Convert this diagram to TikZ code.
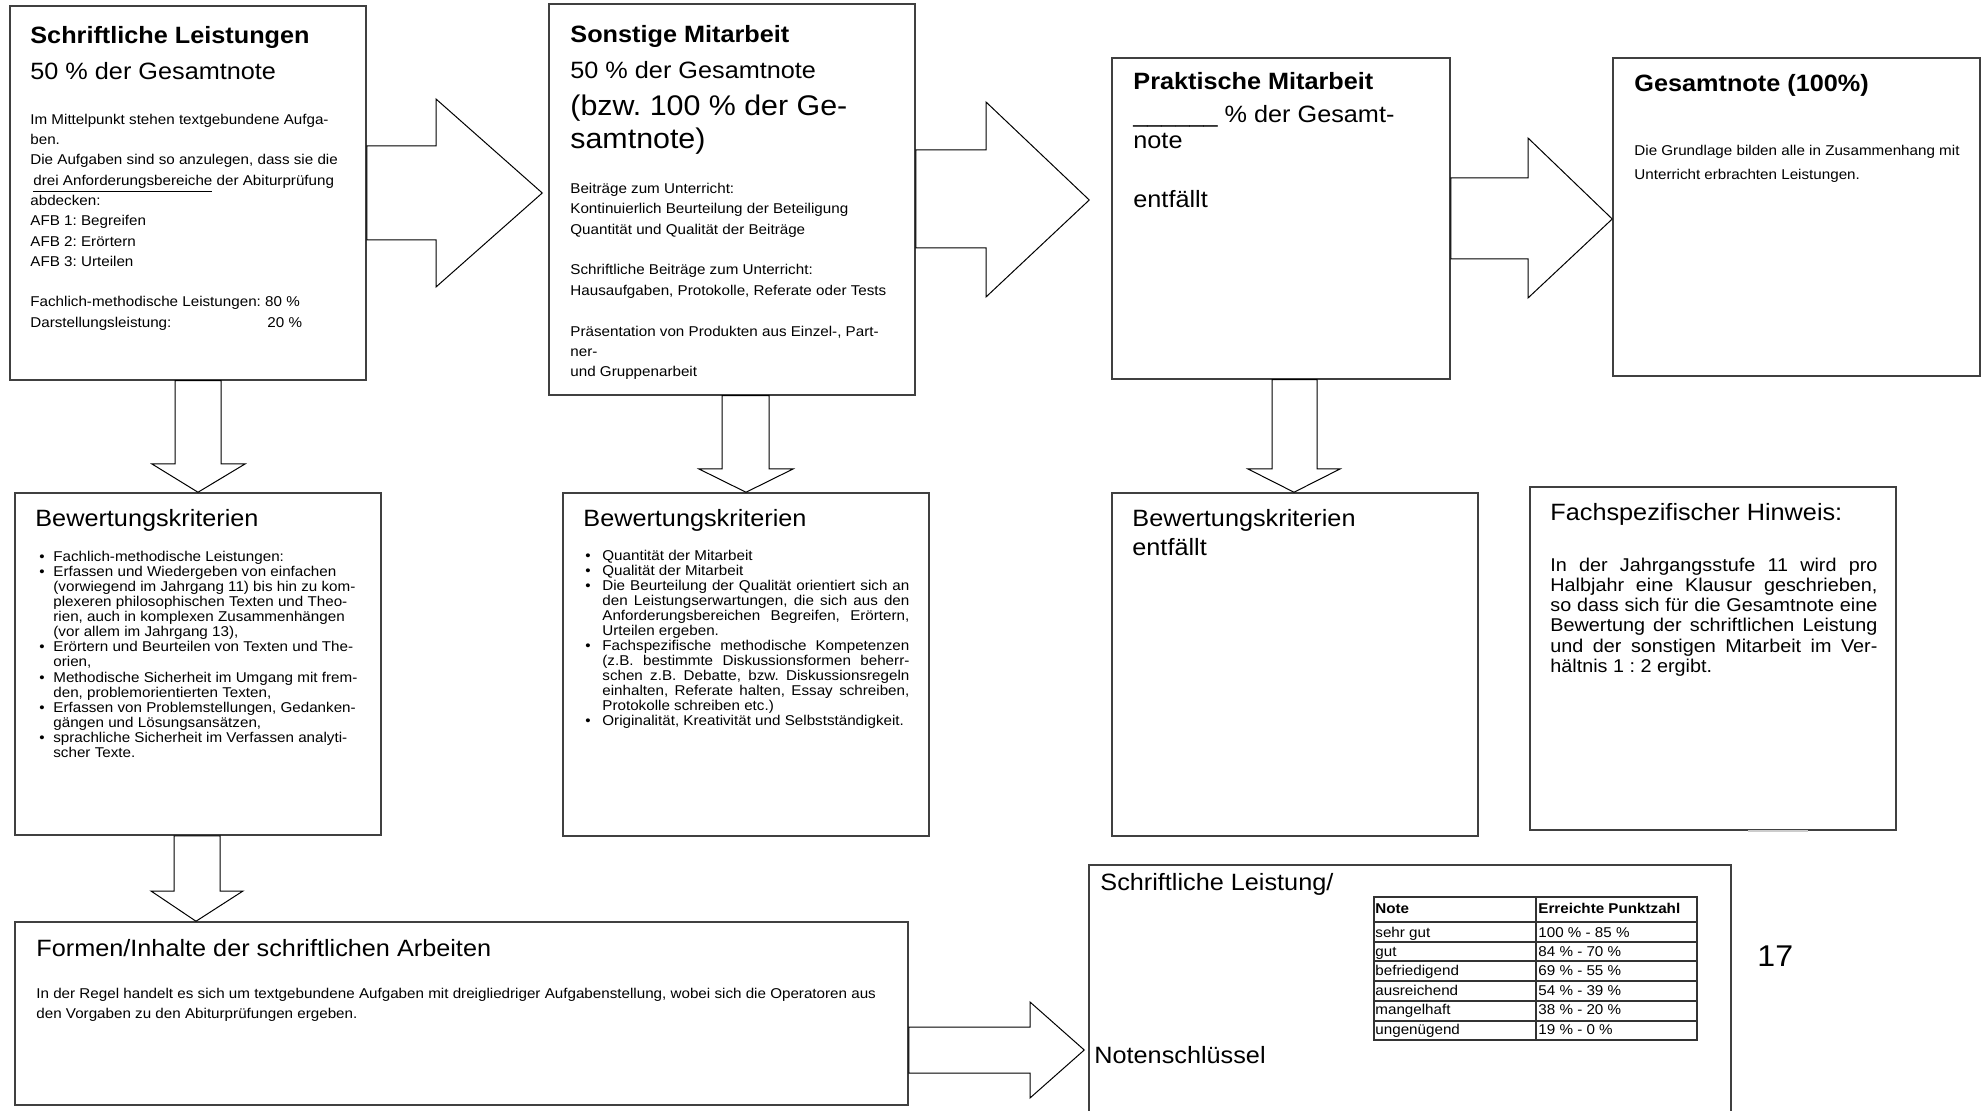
\documentclass[tikz,border=0pt]{standalone}
\usepackage{fontspec}
\setmainfont{Liberation Sans}[FakeStretch=1.07]
\usetikzlibrary{fit,calc}
\newcommand\kpunkt{\makebox[7pt][l]{\textbullet}}
\newcommand\keinzug{\hspace*{7pt}}
\newcommand\jpunkt[1]{\par\hangindent=8.5pt\hangafter=1\noindent\makebox[8.5pt][l]{\textbullet}#1}

\begin{document}
\frenchspacing
\begin{tikzpicture}[x=0.5pt, y=-0.5pt, every node/.style={inner sep=0pt}]
  \tikzstyle{box} = [draw=black!75, line width=0.75pt, fill=white]
  \tikzstyle{barrow} = [draw=black, line width=0.5pt, fill=white]
  \tikzstyle{head} = [font=\fontsize{11.8}{14}\selectfont, anchor=base west]
  \tikzstyle{small} = [font=\fontsize{7.1}{10.15}\selectfont, anchor=north west, align=left]
  \tikzstyle{list} = [font=\fontsize{7.1}{7.55}\selectfont, anchor=north west, align=left]
  \tikzstyle{cell} = [font=\fontsize{7.1}{8.5}\selectfont, anchor=base west]
  \useasboundingbox (0,0) rectangle (1986,1111);

  % obere Reihe
  \node[box, fit={(10,6) (366,380)}] (schrift) {};
  \node[box, fit={(549,4) (915,395)}] (sonst) {};
  \node[box, fit={(1112,58) (1450,379)}] (prakt) {};
  \node[box, fit={(1613,58) (1980,376)}] (gesamt) {};
  % mittlere Reihe
  \node[box, fit={(15,493) (381,835)}] (bewL) {};
  \node[box, fit={(563,493) (929,836)}] (bewM) {};
  \node[box, fit={(1112,493) (1478,836)}] (bewR) {};
  \node[box, fit={(1530,487) (1896,830)}] (hinweis) {};
  \draw[black!20, line width=0.8pt] ($(hinweis.south west)+(219,0)$) -- ++(60,0);
  % untere Reihe
  \node[box, fit={(15,922) (908,1105)}] (formen) {};
  \node[box, fit={(1089,865) (1731,1130)}] (noten) {};

  % Pfeile nach rechts
  \draw[barrow] (schrift.east |- 0,146) -| (436,99) -- ($(sonst.west |- 0,193)+(-6,0)$)
    -- (436,287) |- (schrift.east |- 0,240) -- cycle;
  \draw[barrow] (sonst.east |- 0,150) -| (986,102) -- ($(prakt.west |- 0,200)+(-22,0)$)
    -- (986,297) |- (sonst.east |- 0,248) -- cycle;
  \draw[barrow] (prakt.east |- 0,178) -| (1528,138) -- (gesamt.west |- 0,219)
    -- (1528,298) |- (prakt.east |- 0,259) -- cycle;
  \draw[barrow] (formen.east |- 0,1027) -| (1030,1002) -- ($(noten.west |- 0,1050)+(-4,0)$)
    -- (1030,1098) |- (formen.east |- 0,1073) -- cycle;
  % Pfeile nach unten
  \draw[barrow] (schrift.south -| 175,0) |- (152,464) -- (bewL.north -| 198,0)
    -- (245,464) -| (schrift.south -| 221,0) -- cycle;
  \draw[barrow] (sonst.south -| 722,0) |- (699,469) -- (bewM.north -| 746,0)
    -- (793,469) -| (sonst.south -| 769,0) -- cycle;
  \draw[barrow] (prakt.south -| 1272,0) |- (1248,469) -- (bewR.north -| 1294,0)
    -- (1340,469) -| (prakt.south -| 1317,0) -- cycle;
  \draw[barrow] (bewL.south -| 174,0) |- (151,891) -- (formen.north -| 196,0)
    -- (243,891) -| (bewL.south -| 220,0) -- cycle;

  % Schriftliche Leistungen
  \node[head] (schriftT) at (30,44) {\bfseries Schriftliche Leistungen};
  \node[head] (schriftP) at (30,80) {50 \% der Gesamtnote};
  \node[small] (schriftX) at (30,113.6) {Im Mittelpunkt stehen textgebundene Aufga-\\ben.\\
    Die Aufgaben sind so anzulegen, dass sie die\\
    \hspace*{1.5pt}\underline{drei Anforderungsbereiche} der Abiturprüfung\\abdecken:\\
    AFB 1: Begreifen\\AFB 2: Erörtern\\AFB 3: Urteilen\\[10.15pt]
    Fachlich-methodische Leistungen: 80 \%\\
    \makebox[118.5pt][l]{Darstellungsleistung:}20 \%};

  % Sonstige Mitarbeit
  \node[head] (sonstT) at (570,43) {\bfseries Sonstige Mitarbeit};
  \node[head] (sonstP) at (570,79) {50 \% der Gesamtnote};
  \node[anchor=north west, align=left, font=\fontsize{14.2}{16.5}\selectfont] (sonstB)
    at (570,94.3) {(bzw. 100 \% der Ge-\\samtnote)};
  \node[small, font=\fontsize{7.1}{10.2}\selectfont] (sonstX) at (570,182.6)
    {Beiträge zum Unterricht:\\Kontinuierlich Beurteilung der Beteiligung\\
    Quantität und Qualität der Beiträge\\[10.2pt]
    Schriftliche Beiträge zum Unterricht:\\Hausaufgaben, Protokolle, Referate oder Tests\\[10.2pt]
    Präsentation von Produkten aus Einzel-, Part-\\ner-\\und Gruppenarbeit};

  % Praktische Mitarbeit
  \node[head] (praktT) at (1133,90) {\bfseries Praktische Mitarbeit};
  \node[anchor=north west, align=left, font=\fontsize{11.8}{13}\selectfont] (praktP)
    at (1133,104.8) {\_\_\_\_\_\_ \% der Gesamt-\\note};
  \node[head] (praktX) at (1133,208) {entfällt};

  % Gesamtnote
  \node[head] (gesamtT) at (1634,92) {\bfseries Gesamtnote (100\%)};
  \node[small, font=\fontsize{7.1}{12}\selectfont] (gesamtX) at (1634,144.6)
    {Die Grundlage bilden alle in Zusammenhang mit\\Unterricht erbrachten Leistungen.};

  % Bewertungskriterien links
  \node[head] (bewLT) at (35,527) {Bewertungskriterien};
  \node[list] (bewLX) at (39,550.6) {\kpunkt Fachlich-methodische Leistungen:\\
    \kpunkt Erfassen und Wiedergeben von einfachen\\
    \keinzug (vorwiegend im Jahrgang 11) bis hin zu kom-\\
    \keinzug plexeren philosophischen Texten und Theo-\\
    \keinzug rien, auch in komplexen Zusammenhängen\\
    \keinzug (vor allem im Jahrgang 13),\\
    \kpunkt Erörtern und Beurteilen von Texten und The-\\
    \keinzug orien,\\
    \kpunkt Methodische Sicherheit im Umgang mit frem-\\
    \keinzug den, problemorientierten Texten,\\
    \kpunkt Erfassen von Problemstellungen, Gedanken-\\
    \keinzug gängen und Lösungsansätzen,\\
    \kpunkt sprachliche Sicherheit im Verfassen analyti-\\
    \keinzug scher Texte.};

  % Bewertungskriterien Mitte
  \node[head] (bewMT) at (583,527) {Bewertungskriterien};
  \node[anchor=north west, text width=162pt, align=justify,
    font=\fontsize{7.1}{7.5}\selectfont] (bewMX) at (585,545.6) {\hyphenpenalty=10000
    \jpunkt{Quantität der Mitarbeit}
    \jpunkt{Qualität der Mitarbeit}
    \jpunkt{Die Beurteilung der Qualität orientiert sich an\linebreak den Leistungserwartungen,
      die sich aus den\linebreak Anforderungsbereichen Begreifen, Erörtern,\linebreak Urteilen ergeben.}
    \jpunkt{Fachspezifische methodische Kompetenzen\linebreak (z.B. bestimmte Diskussionsformen
      beherr-\linebreak schen z.B. Debatte, bzw. Diskussionsregeln\linebreak einhalten, Referate
      halten, Essay schreiben,\linebreak Protokolle schreiben etc.)}
    \jpunkt{Originalität, Kreativität und Selbstständigkeit.}\par};

  % Bewertungskriterien rechts
  \node[head] (bewRT) at (1132,527) {Bewertungskriterien};
  \node[head] (bewRX) at (1132,556) {entfällt};

  % Fachspezifischer Hinweis
  \node[head] (hinweisT) at (1550,521) {Fachspezifischer Hinweis:};
  \node[anchor=north west, text width=163.5pt, align=justify,
    font=\fontsize{9.25}{10.1}\selectfont] (hinweisX) at (1550,557.5) {\hyphenpenalty=10000
    \noindent In der Jahrgangsstufe 11 wird pro\linebreak Halbjahr eine Klausur geschrieben,\linebreak
    so dass sich für die Gesamtnote eine\linebreak Bewertung der schriftlichen Leistung\linebreak
    und der sonstigen Mitarbeit im Ver-\linebreak hältnis 1 : 2 ergibt.\par};

  % Formen/Inhalte
  \node[head] (formenT) at (36,956) {Formen/Inhalte der schriftlichen Arbeiten};
  \node[small, font=\fontsize{7.1}{10}\selectfont] (formenX) at (36,987.6)
    {In der Regel handelt es sich um textgebundene Aufgaben mit dreigliedriger Aufgabenstellung,
    wobei sich die Operatoren aus\\den Vorgaben zu den Abiturprüfungen ergeben.};

  % Notenschluessel
  \node[head] (notenT) at (1100,890) {Schriftliche Leistung/};
  \node[head] (notenX) at (1094,1063) {Notenschlüssel};
  \node[draw=black!80, line width=1pt, fit={(1374,897) (1697,1040)}] (tafel) {};
  \draw[black!80, line width=0.6pt] (tafel.north -| 1536,0) -- (tafel.south -| 1536,0);
  \foreach \y in {922,942,961,981,1001,1021}
    \draw[black!80, line width=0.6pt] (tafel.west |- 0,\y) -- (tafel.east |- 0,\y);
  \node[cell] (kopfN) at (1375,913) {\bfseries Note};
  \node[cell] (kopfP) at (1538,913) {\bfseries Erreichte Punktzahl};
  \foreach \note/\pkt [count=\i from 0] in {sehr gut/100 \% - 85 \%, gut/84 \% - 70 \%,
      befriedigend/69 \% - 55 \%, ausreichend/54 \% - 39 \%, mangelhaft/38 \% - 20 \%,
      ungenügend/19 \% - 0 \%} {
    \node[cell] (n\i) at (1375,937+19.4*\i) {\note};
    \node[cell] (p\i) at (1538,937+19.4*\i) {\pkt};
  }
  \node[anchor=base west, font=\fontsize{15}{18}\selectfont] (seite) at (1757,966) {17};
\end{tikzpicture}
\end{document}
